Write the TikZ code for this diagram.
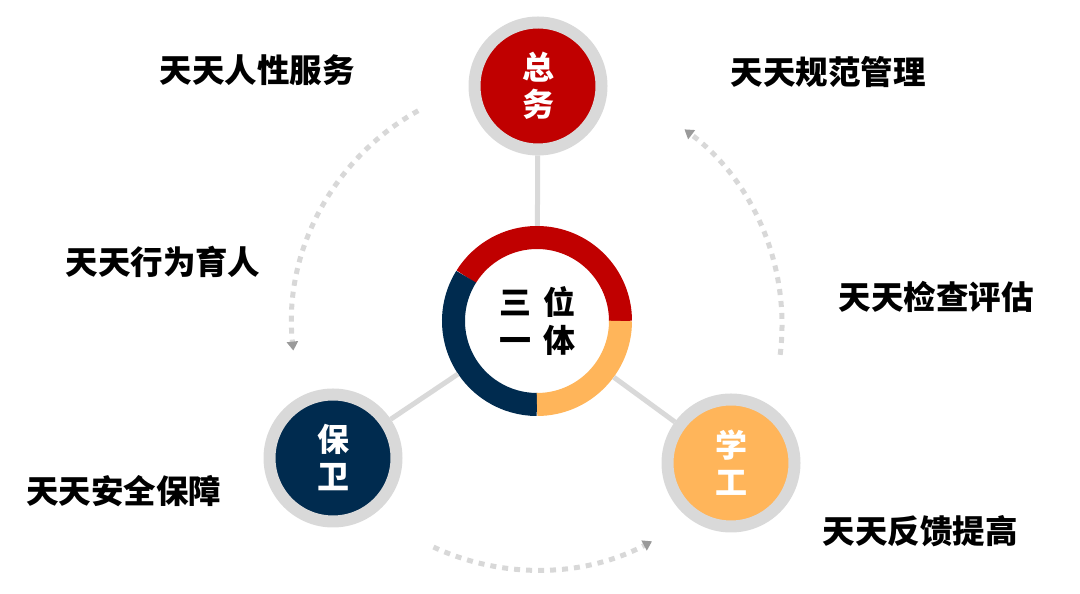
\documentclass[tikz,border=0pt]{standalone}
\usepackage{fontspec}
\usepackage{tikz}
\usetikzlibrary{arrows.meta,positioning,calc}
\setmainfont{Noto Sans CJK SC}
\definecolor{zwred}{HTML}{C00000}
\definecolor{bwnavy}{HTML}{002B4F}
\definecolor{xgorange}{HTML}{FFB55A}
\definecolor{ringgrey}{HTML}{D9D9D9}
\definecolor{dashgrey}{HTML}{D8D8D8}
\definecolor{tipgrey}{HTML}{9A9A9A}

\begin{document}
\begin{tikzpicture}[x=1pt,y=1pt,
    sat/.style={circle,draw=ringgrey,line width=12pt,minimum size=127pt,inner sep=0pt,
      text=white,align=center,font=\bfseries\fontsize{32}{37}\selectfont},
    tag/.style={font=\bfseries\fontsize{32.5}{36}\selectfont,text=black},
    link/.style={draw=ringgrey,line width=5pt},
    flow/.style={dashgrey,line width=5pt,dash pattern=on 6pt off 6pt,
      -{Triangle[length=9pt,width=11pt,color=tipgrey,fill=tipgrey]}}]
  \useasboundingbox (0,0) rectangle (1080,594);
  \coordinate (o) at (537,269);

  % cycle arcs
  \foreach \a/\b in {119/186, 245/298, -7/53}
    \draw[flow] ([shift={(\a:245pt)}]o) arc[start angle=\a,end angle=\b,radius=245pt];

  % centre ring
  \node[circle,minimum size=190pt,inner sep=0pt] (core) at (537,273) {};
  \foreach \c/\a/\b in {zwred/0/148, bwnavy/148/270, xgorange/270/360}
    \draw[\c,line width=23pt] ([shift={(\a:83.5pt)}]core.center) arc[start angle=\a,end angle=\b,radius=83.5pt];
  \node[font=\bfseries\fontsize{32}{38}\selectfont,align=center] (title) at (core) {三\hspace{12pt}位\\一\hspace{12pt}体};

  % three parts
  \node[sat,fill=zwred] (zw) at (538,508) {总\\务};
  \node[sat,fill=bwnavy] (bw) at (333,136) {保\\卫};
  \node[sat,fill=xgorange] (xg) at (731,131) {学\\工};
  \foreach \s in {zw,bw,xg}
    \draw[link] (core) -- (\s);

  % labels
  \foreach \t/\x/\y [count=\i] in {
      天天人性服务/257/524,
      天天规范管理/828/522,
      天天行为育人/163/332,
      天天检查评估/936/297,
      天天安全保障/124/103,
      天天反馈提高/920/63}
    \node[tag] (tag\i) at (\x,\y) {\t};
\end{tikzpicture}
\end{document}
